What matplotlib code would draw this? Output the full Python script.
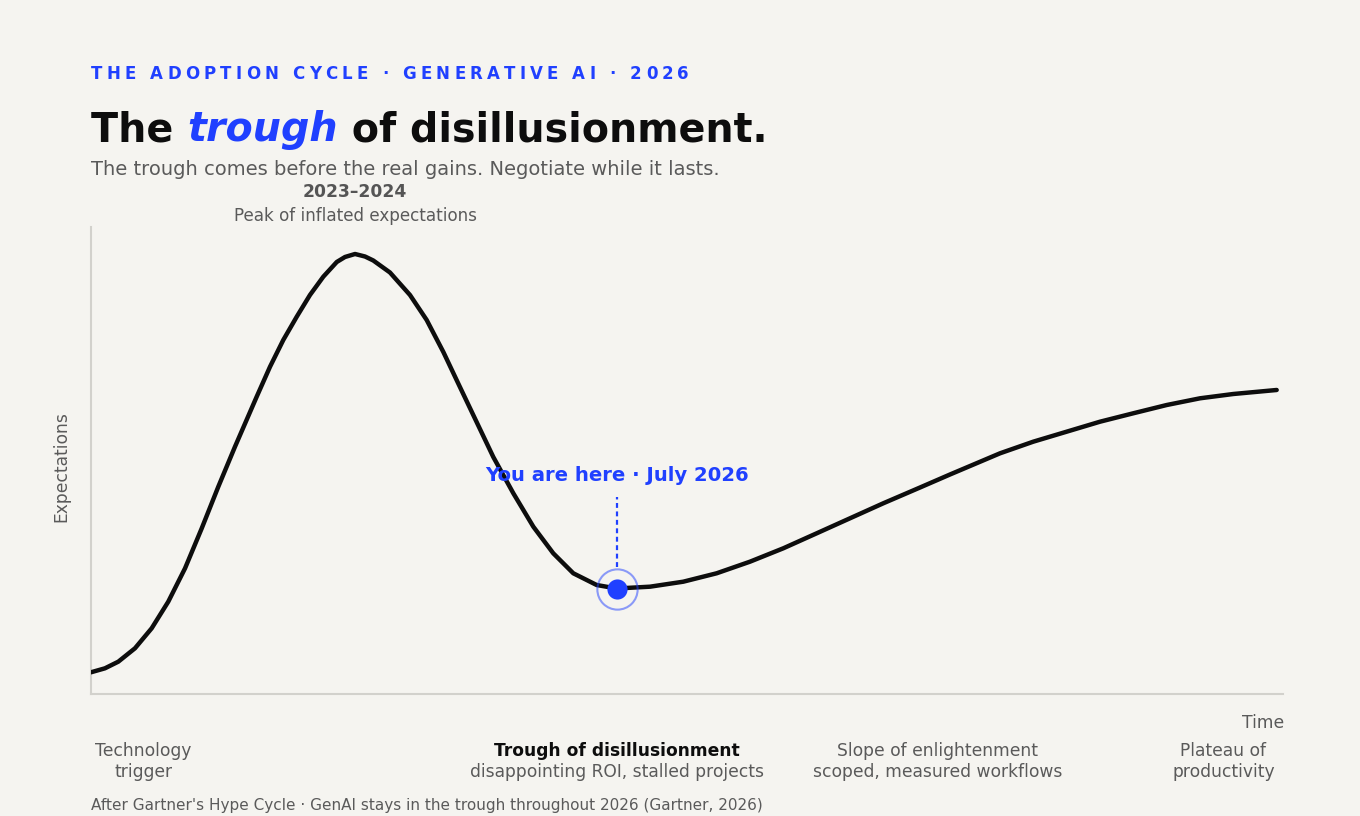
import numpy as np
import matplotlib.pyplot as plt

# hype curve (x = time 0-100, y = expectations 0-100)
curve_x = [0, 1.17, 2.29, 3.69, 5.09, 6.48, 7.89, 9.29, 10.68, 12.08, 13.90, 15.02, 16.13,
           17.26, 18.37, 19.49, 20.62, 21.31, 22.15, 22.99, 23.68, 25.08, 26.76, 28.16, 29.56,
           30.79, 32.07, 33.75, 35.43, 37.11, 38.78, 40.46, 42.42, 44.10, 46.90, 49.69,
           52.49, 55.28, 58.08, 60.88, 63.67, 66.47, 69.55, 72.06, 76.26, 79.05, 81.85,
           84.65, 87.44, 90.24, 93.04, 95.83, 99.47]
curve_y = [4.65, 5.50, 6.92, 9.79, 14.07, 19.76, 26.92, 35.48, 44.39, 52.96, 63.66, 70.09, 75.80,
           80.79, 85.44, 89.36, 92.51, 93.58, 94.22, 93.68, 92.83, 90.26, 85.44, 80.09, 73.23,
           66.60, 59.74, 50.75, 42.98, 35.82, 30.13, 25.85, 23.34, 22.59, 22.98, 24.05,
           25.85, 28.33, 31.20, 34.41, 37.62, 40.84, 44.22, 47.00, 51.54, 54.03, 56.17,
           58.31, 60.11, 61.88, 63.32, 64.24, 65.10]

peak_x = 22.15
now_x, now_y = 44.10, 22.59
now_label = "You are here · July 2026"
peak_years = "2023–2024"
peak_name = "Peak of inflated expectations"

phase_titles = ["Technology", "Trough of disillusionment", "Slope of enlightenment", "Plateau of"]
phase_notes = ["trigger", "disappointing ROI, stalled projects", "scoped, measured workflows", "productivity"]
phase_x = [4.4, 44.1, 71.0, 95.0]

kicker = "THE ADOPTION CYCLE · GENERATIVE AI · 2026"
title_parts = ["The ", "trough", " of disillusionment."]
subtitle = "The trough comes before the real gains. Negotiate while it lasts."
footer = "After Gartner's Hype Cycle · GenAI stays in the trough throughout 2026 (Gartner, 2026)"

BG = "#f5f4f0"
BLUE = "#2040ff"
GRAY = "#5a5a5a"
INK = "#0d0d0d"
W, H = 1360, 816
PX = 4.67  # pixels per y unit inside the axes


def fy(py):
    # pixel row -> figure fraction
    return 1 - py / H


def dy(py):
    # pixel row -> data y
    return (694 - py) / PX


fig = plt.figure(figsize=(13.6, 8.16), dpi=100, facecolor=BG)
ax = fig.add_axes([91 / W, fy(694), (1283 - 91) / W, (694 - 227) / H])
ax.set_facecolor(BG)
ax.set_xlim(0, 100)
ax.set_ylim(0, 100)
for s in ["top", "right"]:
    ax.spines[s].set_visible(False)
for s in ["left", "bottom"]:
    ax.spines[s].set_color("#d2d1cc")
    ax.spines[s].set_linewidth(1.5)
ax.set_xticks([])
ax.set_yticks([])

ax.plot(curve_x, curve_y, color=INK, lw=3.2, solid_capstyle="round", solid_joinstyle="round", zorder=3)

# you are here marker
ax.plot([now_x, now_x], [now_y + 4.6, now_y + 19.5], color=BLUE, lw=1.6, ls=(0, (2.2, 1.6)), zorder=2)
ax.plot(now_x, now_y, "o", ms=29, mfc="none", mec=BLUE, mew=1.5, alpha=0.5, zorder=4)
ax.plot(now_x, now_y, "o", ms=14.5, color=BLUE, mec="none", zorder=5)
ax.text(now_x, dy(481), now_label, color=BLUE, fontsize=14.1, fontweight="bold",
        ha="center", va="baseline")

# peak labels
ax.text(peak_x, dy(197), peak_years, color="#555555", fontsize=12.3, fontweight="bold",
        ha="center", va="baseline", clip_on=False)
ax.text(peak_x, dy(221), peak_name, color=GRAY, fontsize=12.1,
        ha="center", va="baseline", clip_on=False)

# axis names
fig.text(61 / W, fy(467), "Expectations", color=GRAY, fontsize=12.3, rotation=90,
         ha="center", va="center")
fig.text(1284 / W, fy(728), "Time", color=GRAY, fontsize=12.3, ha="right", va="baseline")

# phase labels under the axis
for i, (t, n, x) in enumerate(zip(phase_titles, phase_notes, phase_x)):
    hl = i == 1
    ax.text(x, dy(756), t, color=INK if hl else GRAY, fontsize=12.3,
            fontweight="bold" if hl else "normal", ha="center", va="baseline", clip_on=False)
    ax.text(x, dy(777), n, color=GRAY, fontsize=12.3,
            ha="center", va="baseline", clip_on=False)

fig.text(91 / W, fy(810), footer, color=GRAY, fontsize=11, va="baseline")
fig.text(91 / W, fy(175), subtitle, color=GRAY, fontsize=14, va="baseline")

# title in three pieces
renderer = fig.canvas.get_renderer()
x0 = 91 / W
styles = [dict(color=INK, style="normal"), dict(color=BLUE, style="italic"), dict(color=INK, style="normal")]
for part, st in zip(title_parts, styles):
    t = fig.text(x0, fy(141), part, fontsize=28.5, fontweight="bold", va="baseline", **st)
    x0 = t.get_window_extent(renderer).x1 / W

# tracked kicker, letter by letter
x0 = 91.0
track = 4.2
for ch in kicker:
    t = fig.text(x0 / W, fy(79), ch, color=BLUE, fontsize=12, fontweight="bold", va="baseline")
    x0 = t.get_window_extent(renderer).x1 + track

fig.savefig("out.png", dpi=100, facecolor=BG)
